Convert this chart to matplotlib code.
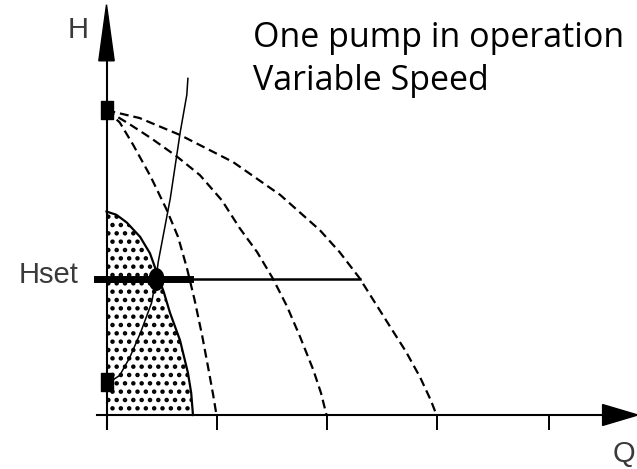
import numpy as np
import matplotlib.pyplot as plt
from matplotlib.path import Path

# pump curves at reduced speeds (all start at the same shut-off head)
q_speed1 = [0, 0.12, 0.24, 0.4, 0.55, 0.65, 0.73, 0.8, 0.87, 0.93, 0.97, 1.0]
h_speed1 = [2.77, 2.66, 2.46, 2.17, 1.86, 1.62, 1.34, 1.05, 0.72, 0.40, 0.18, 0]
q_speed2 = [0, 0.2, 0.4, 0.64, 0.85, 1.05, 1.21, 1.37, 1.51, 1.64, 1.76, 1.88, 1.95, 2.0]
h_speed2 = [2.77, 2.65, 2.52, 2.35, 2.18, 1.95, 1.70, 1.48, 1.245, 0.99, 0.71, 0.41, 0.20, 0]
q_speed3 = [0, 0.3, 0.67, 1.15, 1.58, 1.94, 2.12, 2.3, 2.58, 2.72, 2.85, 2.95, 3.0]
h_speed3 = [2.77, 2.70, 2.545, 2.30, 2.0, 1.68, 1.48, 1.245, 0.80, 0.58, 0.345, 0.13, 0]

# minimum speed curve (dotted area)
q_min = [0, 0.09, 0.184, 0.305, 0.395, 0.456, 0.52, 0.577, 0.668, 0.741, 0.77, 0.786]
h_min = [1.85, 1.82, 1.75, 1.62, 1.47, 1.30, 1.12, 0.93, 0.68, 0.38, 0.2, 0]

# system curve
q_sys = [0, 0.06, 0.12, 0.21, 0.31, 0.41, 0.45, 0.47, 0.58, 0.67, 0.73, 0.74]
h_sys = [0.30, 0.32, 0.36, 0.52, 0.75, 1.02, 1.24, 1.39, 1.97, 2.57, 2.91, 3.06]

h_set = 1.24
q_op = 0.45
h_shutoff = 2.77
h_static = 0.30
q_ticks = [1.0, 2.0, 3.0, 4.02]

plt.rcParams['hatch.linewidth'] = 2.0

fig = plt.figure(figsize=(6.37, 4.69), dpi=100)
ax = fig.add_axes([0, 0, 1, 1])
ax.set_xlim(-106.5 / 110, (637 - 106.5) / 110)
ax.set_ylim((415 - 469) / 110, 415 / 110)
ax.axis('off')

# dotted area under min speed curve
ax.fill_between(q_min, h_min, 0, facecolor='white', edgecolor='black',
                hatch='..', linewidth=0)
ax.plot(q_min, h_min, color='black', lw=1.6)

dash = (0, (4, 2.2))
for q, h in [(q_speed1, h_speed1), (q_speed2, h_speed2), (q_speed3, h_speed3)]:
    ax.plot(q, h, color='black', lw=1.6, linestyle=dash)

ax.plot(q_sys, h_sys, color='black', lw=1.1)

# Hset line
ax.plot([-0.09, 2.3], [h_set, h_set], color='black', lw=1.8)
ax.plot([-0.09, 0.76], [h_set, h_set], color='black', lw=5)

# axes with arrows
ax.plot([-0.09, 4.52], [0, 0], color='black', lw=1.5)
ax.plot([0, 0], [-0.125, 3.23], color='black', lw=1.5)
ax.fill([0, -0.07, 0.07], [3.73, 3.22, 3.22], color='black')
ax.fill([4.83, 4.51, 4.51], [0, 0.095, -0.095], color='black')
for t in q_ticks:
    ax.plot([t, t], [0, -0.125], color='black', lw=1.4)

# markers (slightly stretched vertically like the original)
rect = Path([(-0.63, -1), (0.63, -1), (0.63, 1), (-0.63, 1), (-0.63, -1)],
            closed=True)
circ = Path.unit_circle()
circ = Path(circ.vertices * [1, 1.45], circ.codes)
ax.plot([0, 0], [h_shutoff, h_static], linestyle='none', marker=rect,
        markersize=13.5, color='black')
ax.plot([q_op], [h_set], linestyle='none', marker=circ,
        markersize=15.5, color='black')

lab = dict(family=['Liberation Sans Narrow', 'Liberation Sans', 'DejaVu Sans'],
           color='#3a3a3a', fontsize=21, va='baseline')
ax.text(-0.255, 3.43, 'H', ha='center', **lab)
ax.text(-0.80, 1.20, 'Hset', ha='left', **lab)
ax.text(4.60, -0.43, 'Q', ha='left', **lab)

ttl = dict(family=['Open Sans', 'DejaVu Sans'], color='black', fontsize=24.5,
           va='baseline', ha='left')
ax.text(1.33, 3.345, 'One pump in operation', **ttl)
ax.text(1.33, 2.955, 'Variable Speed', **ttl)

plt.savefig('out.png', dpi=100)
plt.close()
